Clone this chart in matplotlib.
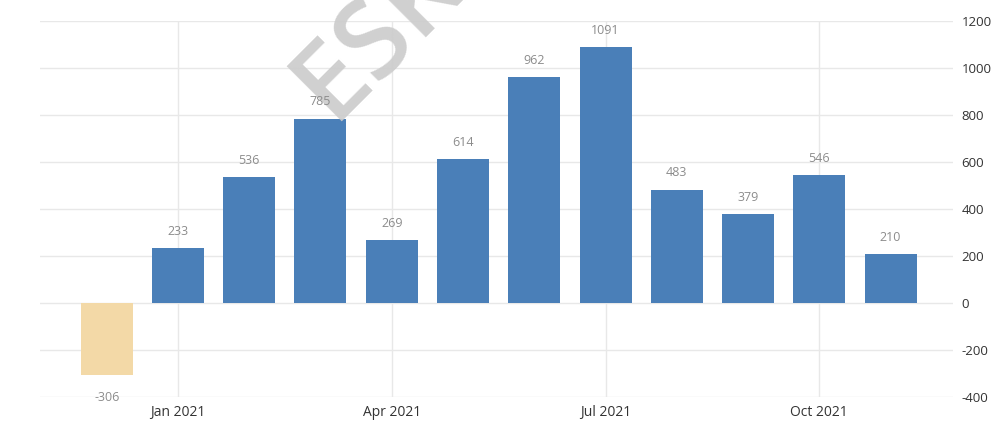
import matplotlib
matplotlib.use("Agg")
import matplotlib.pyplot as plt

# Monthly change, Dec 2020 - Nov 2021
months = ["Dec 2020", "Jan 2021", "Feb 2021", "Mar 2021", "Apr 2021", "May 2021",
          "Jun 2021", "Jul 2021", "Aug 2021", "Sep 2021", "Oct 2021", "Nov 2021"]
values = [-306, 233, 536, 785, 269, 614, 962, 1091, 483, 379, 546, 210]
tick_months = ["Jan 2021", "Apr 2021", "Jul 2021", "Oct 2021"]
y_ticks = [-400, -200, 0, 200, 400, 600, 800, 1000, 1200]

BLUE = "#4a7fb8"
BEIGE = "#f3d9a7"
GRID = "#e8e8e8"

plt.rcParams["font.family"] = ["Open Sans", "DejaVu Sans"]
plt.rcParams["axes.unicode_minus"] = False

fig = plt.figure(figsize=(9.93, 4.32), dpi=100)
ax = fig.add_axes([0.040, 0.081, 0.920, 0.870])

x = list(range(len(values)))
colors = [BEIGE if v < 0 else BLUE for v in values]
ax.bar(x, values, width=0.73, color=colors, zorder=3)

for xi, v in zip(x, values):
    off = 12 if v >= 0 else -16
    ax.annotate(f"{v}", (xi, v), xytext=(0, off), textcoords="offset points",
                ha="center", va="center", fontsize=9, color="#8c8c8c", zorder=5)

ax.set_xlim(-0.94, 11.88)
ax.set_ylim(-400, 1200)

ax.set_xticks([months.index(m) for m in tick_months])
ax.set_xticklabels(tick_months, fontsize=10)
ax.set_yticks(y_ticks)
ax.yaxis.tick_right()
ax.tick_params(axis="both", length=0, labelcolor="#333333")
ax.tick_params(axis="y", pad=6, labelsize=9.5)
ax.tick_params(axis="x", pad=6)

ax.grid(True, color=GRID, linewidth=1, zorder=0)
for s in ax.spines.values():
    s.set_visible(False)

# watermark, drawn above the bars but under the value labels
ax.text(332 / 993, 1 - 121 / 432, "ESK", transform=fig.transFigure,
        rotation=45, rotation_mode="anchor", ha="left", va="baseline",
        fontsize=78, color="#cbcbcb", alpha=0.9, fontweight="semibold",
        zorder=4, clip_on=False)

fig.savefig("out.png", dpi=100)
